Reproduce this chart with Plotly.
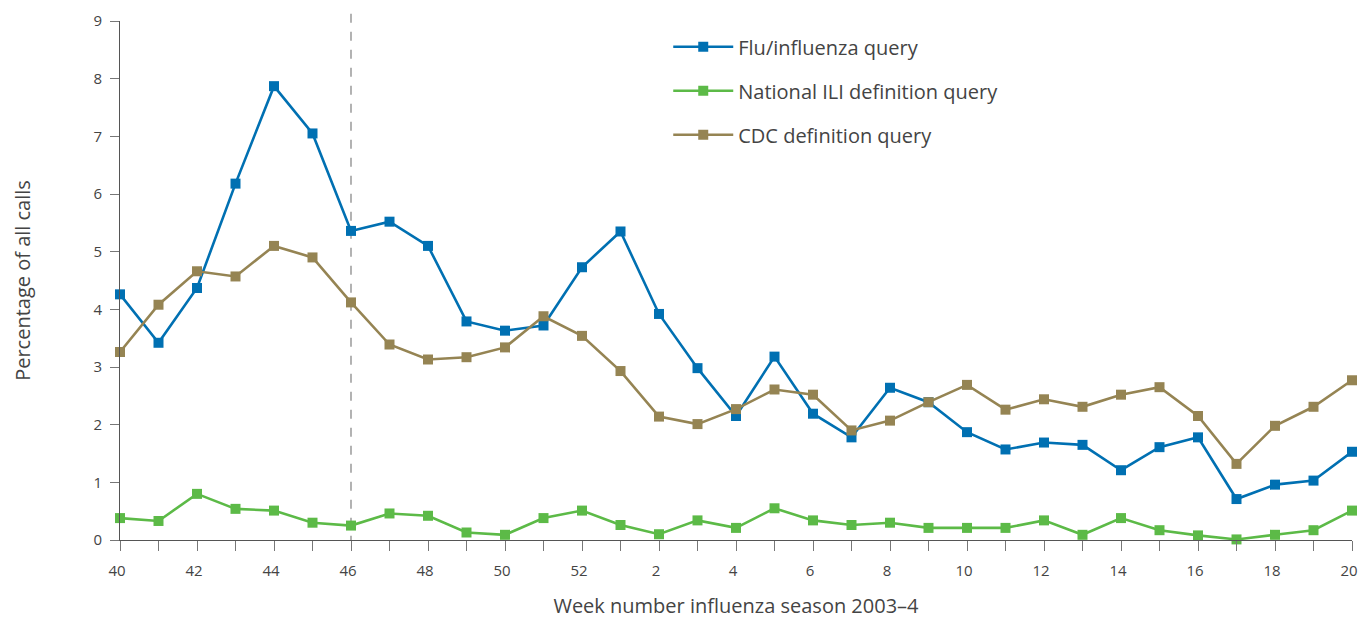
import plotly.graph_objects as go

weeks = [40, 41, 42, 43, 44, 45, 46, 47, 48, 49, 50, 51, 52,
         1, 2, 3, 4, 5, 6, 7, 8, 9, 10, 11, 12, 13, 14, 15, 16, 17, 18, 19, 20]

flu_query = [4.26, 3.42, 4.37, 6.18, 7.87, 7.05, 5.36, 5.52, 5.10, 3.79, 3.63, 3.72, 4.73,
             5.35, 3.92, 2.98, 2.15, 3.18, 2.19, 1.78, 2.64, 2.39, 1.87, 1.57, 1.69, 1.65,
             1.21, 1.61, 1.78, 0.71, 0.96, 1.03, 1.53]

national_ili = [0.38, 0.33, 0.80, 0.54, 0.51, 0.30, 0.25, 0.46, 0.42, 0.13, 0.09, 0.38, 0.51,
                0.26, 0.10, 0.34, 0.21, 0.55, 0.34, 0.26, 0.30, 0.21, 0.21, 0.21, 0.34, 0.09,
                0.38, 0.17, 0.08, 0.01, 0.09, 0.17, 0.51]

cdc_query = [3.26, 4.08, 4.66, 4.57, 5.10, 4.90, 4.12, 3.39, 3.13, 3.17, 3.34, 3.88, 3.54,
             2.93, 2.14, 2.01, 2.27, 2.61, 2.52, 1.90, 2.07, 2.39, 2.69, 2.26, 2.44, 2.31,
             2.52, 2.65, 2.15, 1.32, 1.98, 2.31, 2.77]

series_names = ["Flu/influenza query", "National ILI definition query", "CDC definition query"]
series_colors = ["#0070b2", "#5cba47", "#958453"]
marker_week = 46

idx = list(range(len(weeks)))
tick_text = [str(w) if i % 2 == 0 else "" for i, w in enumerate(weeks)]

fig = go.Figure()
for name, vals, col in zip(series_names, [flu_query, national_ili, cdc_query], series_colors):
    fig.add_trace(go.Scatter(
        x=idx, y=vals, name=name, mode="lines+markers",
        line=dict(color=col, width=2.6),
        marker=dict(symbol="square", size=10, color=col),
        cliponaxis=False, legendgroup=name,
    ))

mi = weeks.index(marker_week)
fig.add_shape(type="line", xref="x", yref="paper", x0=mi, x1=mi, y0=1.014, y1=0,
              line=dict(color="#8a8a8a", width=1.3, dash="dash"), layer="below")

font = "Open Sans, Lato, sans-serif"
fig.update_layout(
    width=1360, height=619,
    margin=dict(l=120, r=8, t=21, b=79, autoexpand=False),
    plot_bgcolor="white", paper_bgcolor="white",
    font=dict(family=font, color="#444444", size=15),
    showlegend=True,
    legend=dict(x=0.445, y=0.988, xanchor="left", yanchor="top",
                font=dict(size=20, color="#444444"),
                tracegroupgap=15, itemwidth=60, bgcolor="rgba(0,0,0,0)"),
    xaxis=dict(range=[0, len(weeks) - 1], tickmode="array", tickvals=idx, ticktext=tick_text,
               showgrid=False, zeroline=False, showline=True, linecolor="#555555", linewidth=1,
               ticks="outside", ticklen=10, tickcolor="#777777", tickwidth=1,
               ticklabelstandoff=7, ticklabelshift=-3, ticklabeloverflow="allow", automargin=False,
               tickfont=dict(size=15, color="#444444"),
               title=dict(text="Week number influenza season 2003–4", font=dict(size=20, color="#444444"),
                          standoff=21)),
    yaxis=dict(range=[0, 9], tickvals=list(range(10)), showgrid=False, zeroline=False,
               showline=True, linecolor="#555555", linewidth=1,
               ticks="outside", ticklen=9, tickcolor="#777777", tickwidth=1,
               ticklabelstandoff=5, automargin=False,
               tickfont=dict(size=15, color="#444444"),
               title=dict(text="Percentage of all calls", font=dict(size=20, color="#444444"),
                          standoff=57)),
)

# remove the browser's default 8px body margin so the figure fills the window exactly
fig.write_html("out.html", config={"displayModeBar": False},
               post_script="document.body.style.margin='0';")
